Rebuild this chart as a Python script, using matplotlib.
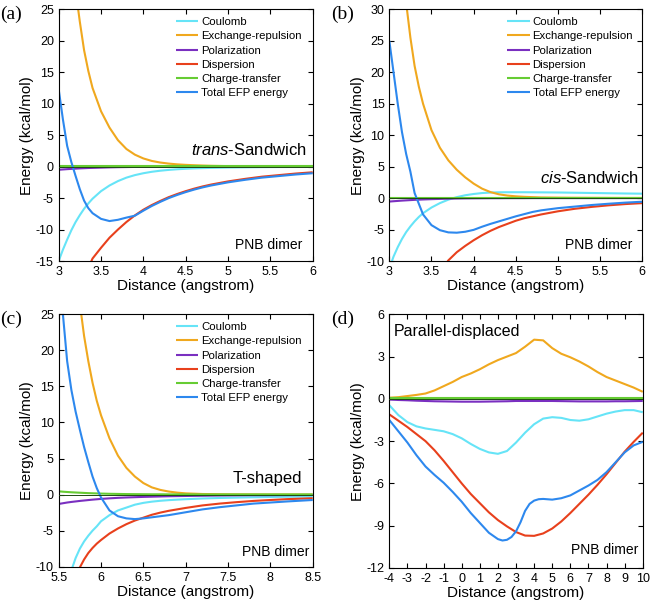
import matplotlib
matplotlib.use("Agg")
import matplotlib.pyplot as plt

plt.rcParams.update({
    "font.family": "Liberation Sans",
    "mathtext.fontset": "custom",
    "mathtext.rm": "Liberation Sans",
    "mathtext.it": "Liberation Sans:italic",
    "axes.unicode_minus": False,
    "axes.linewidth": 0.8,
    "xtick.direction": "in",
    "ytick.direction": "in",
    "xtick.top": True,
    "ytick.right": True,
    "xtick.major.size": 3.5,
    "ytick.major.size": 3.5,
    "xtick.labelsize": 9,
    "ytick.labelsize": 9,
})

LABELS = ["Coulomb", "Exchange-repulsion", "Polarization", "Dispersion",
          "Charge-transfer", "Total EFP energy"]
COLORS = ["#66e4f7", "#f0a81e", "#7a2fc0", "#e8401c", "#66cc33", "#2d88ee"]

# ---- (a) trans-Sandwich ----
x_a = [3.0, 3.05, 3.1, 3.15, 3.2, 3.25, 3.3, 3.35, 3.4, 3.5, 3.6, 3.7, 3.8, 3.9, 4.0,
       4.1, 4.2, 4.3, 4.4, 4.5, 4.6, 4.7, 4.8, 5.0, 5.2, 5.4, 5.6, 5.8, 6.0]
coul_a = [-15, -13.2, -11.6, -10.1, -8.8, -7.7, -6.7, -5.85, -5.1, -3.9, -3.0, -2.3, -1.75,
          -1.35, -1.05, -0.82, -0.65, -0.52, -0.42, -0.34, -0.28, -0.24, -0.2, -0.15,
          -0.12, -0.09, -0.07, -0.06, -0.05]
exrep_a = [62, 51, 42, 34.5, 28, 23, 18.5, 15.2, 12.5, 8.8, 6.2, 4.2, 2.8, 1.9, 1.3, 0.9,
           0.65, 0.48, 0.36, 0.28, 0.22, 0.17, 0.13, 0.08, 0.06, 0.04, 0.03, 0.02, 0.01]
pol_a = [-0.5, -0.45, -0.4, -0.36, -0.32, -0.28, -0.25, -0.22, -0.2, -0.16, -0.12, -0.09,
         -0.07, -0.05, -0.04, -0.03, -0.02, -0.02, -0.01, -0.01, -0.01, 0, 0, 0, 0, 0, 0, 0, 0]
disp_a = [-34, -30, -27, -24.3, -22, -19.8, -17.8, -16.1, -14.6, -12.9, -11.3, -10.0, -8.8,
          -7.75, -6.85, -6.1, -5.45, -4.85, -4.35, -3.9, -3.5, -3.15, -2.85, -2.35, -1.95,
          -1.6, -1.35, -1.1, -0.9]
ct_a = [0.05] * 29
total_a = [12.3, 7.5, 3.3, 0.7, -1.5, -3.6, -5.4, -6.6, -7.4, -8.3, -8.65, -8.45, -8.1,
           -7.8, -7.0, -6.25, -5.6, -5.0, -4.5, -4.05, -3.65, -3.3, -3.0, -2.5, -2.1,
           -1.75, -1.5, -1.25, -1.05]

# ---- (b) cis-Sandwich ----
x_b = x_a
coul_b = [-11.2, -9.3, -7.8, -6.5, -5.4, -4.5, -3.7, -3.0, -2.4, -1.5, -0.8, -0.25, 0.15,
          0.45, 0.65, 0.8, 0.88, 0.92, 0.93, 0.93, 0.93, 0.92, 0.91, 0.89, 0.85, 0.81,
          0.77, 0.73, 0.7]
exrep_b = [70, 56, 45, 37, 31, 25.5, 21, 17.7, 15, 10.8, 8.0, 6.0, 4.5, 3.3, 2.3, 1.5,
           0.95, 0.6, 0.4, 0.28, 0.2, 0.15, 0.1, 0.07, 0.05, 0.04, 0.03, 0.02, 0.02]
pol_b = [-0.55, -0.5, -0.45, -0.4, -0.36, -0.32, -0.28, -0.25, -0.22, -0.17, -0.13, -0.1,
         -0.07, -0.05, -0.04, -0.03, -0.02, -0.02, -0.01, -0.01, -0.01, 0, 0, 0, 0, 0, 0, 0, 0]
disp_b = [-32, -29.5, -27, -25, -23, -21.2, -19.5, -18, -16.5, -14, -11.8, -9.9, -8.6, -7.6,
          -6.7, -5.9, -5.2, -4.6, -4.1, -3.6, -3.2, -2.9, -2.6, -2.1, -1.7, -1.4, -1.15,
          -0.95, -0.8]
ct_b = [0.03] * 29
total_b = [25, 20, 15, 10.5, 7.0, 4.2, 0.8, -0.9, -2.6, -4.3, -5.1, -5.45, -5.5, -5.35,
           -5.05, -4.55, -4.1, -3.7, -3.3, -2.9, -2.55, -2.2, -1.95, -1.6, -1.35, -1.1,
           -0.9, -0.72, -0.58]

# ---- (c) T-shaped ----
x_c = [5.5, 5.55, 5.6, 5.65, 5.7, 5.75, 5.8, 5.85, 5.9, 5.95, 6.0, 6.1, 6.2, 6.3, 6.4, 6.5,
       6.6, 6.7, 6.8, 6.9, 7.0, 7.2, 7.4, 7.6, 7.8, 8.0, 8.2, 8.5]
coul_c = [-17, -15, -12.8, -10.5, -8.8, -7.5, -6.5, -5.7, -5.0, -4.4, -3.7, -2.85, -2.2,
          -1.8, -1.4, -1.15, -0.98, -0.86, -0.77, -0.7, -0.64, -0.54, -0.47, -0.42, -0.37,
          -0.33, -0.3, -0.26]
exrep_c = [80, 63, 50, 40.5, 33, 26.5, 22, 18.5, 15.5, 13, 11, 7.8, 5.4, 3.7, 2.5, 1.6, 1.0,
           0.65, 0.42, 0.27, 0.17, 0.08, 0.05, 0.03, 0.02, 0.01, 0.01, 0.0]
pol_c = [-1.3, -1.2, -1.1, -1.02, -0.95, -0.88, -0.82, -0.76, -0.7, -0.65, -0.6, -0.52,
         -0.45, -0.4, -0.36, -0.32, -0.29, -0.26, -0.23, -0.21, -0.19, -0.16, -0.13, -0.11,
         -0.09, -0.08, -0.07, -0.05]
disp_c = [-18, -16.2, -14.5, -12.9, -11.5, -10.1, -9.0, -8.1, -7.4, -6.8, -6.3, -5.4, -4.7,
          -4.1, -3.6, -3.2, -2.8, -2.5, -2.25, -2.05, -1.85, -1.5, -1.25, -1.05, -0.88,
          -0.75, -0.63, -0.5]
ct_c = [0.45, 0.4, 0.36, 0.32, 0.29, 0.26, 0.23, 0.2, 0.18, 0.16, 0.14, 0.11, 0.09, 0.07,
        0.06, 0.05, 0.04, 0.04, 0.03, 0.03, 0.03, 0.02, 0.02, 0.02, 0.02, 0.02, 0.02, 0.02]
total_c = [38, 25, 18.5, 14.5, 11.5, 9.0, 6.6, 4.5, 2.5, 0.9, -0.4, -2.2, -3.0, -3.3, -3.4,
           -3.3, -3.15, -3.0, -2.85, -2.65, -2.45, -2.05, -1.75, -1.5, -1.25, -1.1, -0.95,
           -0.75]

# ---- (d) Parallel-displaced ----
x_d = [-4, -3.5, -3, -2.5, -2, -1.5, -1, -0.5, 0, 0.5, 1, 1.5, 2, 2.5, 3, 3.5, 4, 4.5, 5,
       5.5, 6, 6.5, 7, 7.5, 8, 8.5, 9, 9.5, 10]
coul_d = [-0.45, -1.15, -1.65, -1.95, -2.1, -2.2, -2.3, -2.5, -2.8, -3.2, -3.55, -3.8, -3.9,
          -3.7, -3.1, -2.4, -1.8, -1.4, -1.3, -1.35, -1.5, -1.55, -1.45, -1.25, -1.05,
          -0.9, -0.8, -0.8, -0.95]
exrep_d = [0.08, 0.12, 0.2, 0.28, 0.38, 0.6, 0.9, 1.2, 1.55, 1.8, 2.1, 2.45, 2.75, 3.0,
           3.25, 3.7, 4.2, 4.15, 3.6, 3.2, 2.95, 2.65, 2.3, 1.9, 1.55, 1.3, 1.05, 0.8, 0.5]
pol_d = [-0.05, -0.08, -0.1, -0.13, -0.15, -0.17, -0.18, -0.19, -0.2, -0.2, -0.2, -0.19,
         -0.18, -0.17, -0.15, -0.15, -0.15, -0.15, -0.15, -0.16, -0.17, -0.18, -0.18,
         -0.18, -0.18, -0.17, -0.17, -0.16, -0.15]
disp_d = [-1.1, -1.55, -2.0, -2.5, -3.0, -3.65, -4.4, -5.2, -6.0, -6.75, -7.4, -8.05, -8.6,
          -9.05, -9.45, -9.7, -9.72, -9.55, -9.2, -8.7, -8.1, -7.45, -6.8, -6.1, -5.35,
          -4.55, -3.75, -3.05, -2.4]
ct_d = [0.03] * 29
x_total_d = [-4, -3.5, -3, -2.5, -2, -1.5, -1, -0.5, 0, 0.5, 1, 1.5, 2, 2.25, 2.5, 2.75, 3,
             3.25, 3.5, 3.75, 4, 4.25, 4.5, 5, 5.5, 6, 6.5, 7, 7.5, 8, 8.5, 9, 9.5, 10]
total_d = [-1.5, -2.3, -3.1, -4.0, -4.8, -5.4, -5.95, -6.6, -7.3, -8.1, -8.8, -9.5, -9.95,
           -10.05, -10.0, -9.8, -9.4, -8.75, -7.95, -7.45, -7.22, -7.12, -7.1, -7.15, -7.05,
           -6.85, -6.5, -6.15, -5.75, -5.2, -4.5, -3.8, -3.3, -3.05]

fig = plt.figure(figsize=(6.52, 6.11), dpi=100)
ax_a = fig.add_axes([0.090, 0.5728, 0.3896, 0.412])
ax_b = fig.add_axes([0.5971, 0.5728, 0.3880, 0.412])
ax_c = fig.add_axes([0.090, 0.0725, 0.3896, 0.4131])
ax_d = fig.add_axes([0.5971, 0.0704, 0.3887, 0.4152])


def draw(ax, series, legend_x=None):
    for (x, y), lab, col in zip(series, LABELS, COLORS):
        ax.plot(x, y, color=col, lw=1.5, label=lab, solid_capstyle="butt")
    ax.axhline(0, color="#1f4a12", lw=0.7, zorder=3)
    if legend_x is not None:
        ax.legend(loc="upper left", bbox_to_anchor=(legend_x, 0.968), frameon=False,
                  fontsize=8.2, handlelength=2.0, handletextpad=0.25, labelspacing=0.36,
                  borderpad=0, borderaxespad=0)
    ax.set_xlabel("Distance (angstrom)", fontsize=11, labelpad=1)
    ax.set_ylabel("Energy (kcal/mol)", fontsize=11, labelpad=1)


draw(ax_a, [(x_a, coul_a), (x_a, exrep_a), (x_a, pol_a), (x_a, disp_a),
            (x_a, ct_a), (x_a, total_a)], legend_x=0.46)
ax_a.set_xlim(3, 6)
ax_a.set_ylim(-15, 25)
ax_a.set_xticks([3, 3.5, 4, 4.5, 5, 5.5, 6])
ax_a.set_xticklabels(["3", "3.5", "4", "4.5", "5", "5.5", "6"])
ax_a.set_yticks(range(-15, 26, 5))
ax_a.text(5.93, 2.6, r"$\it{trans}$-Sandwich", fontsize=12, ha="right", va="center")
ax_a.text(5.88, -12.45, "PNB dimer", fontsize=10, ha="right", va="center")

draw(ax_b, [(x_b, coul_b), (x_b, exrep_b), (x_b, pol_b), (x_b, disp_b),
            (x_b, ct_b), (x_b, total_b)], legend_x=0.465)
ax_b.set_xlim(3, 6)
ax_b.set_ylim(-10, 30)
ax_b.set_xticks([3, 3.5, 4, 4.5, 5, 5.5, 6])
ax_b.set_xticklabels(["3", "3.5", "4", "4.5", "5", "5.5", "6"])
ax_b.set_yticks(range(-10, 31, 5))
ax_b.text(5.96, 3.2, r"$\it{cis}$-Sandwich", fontsize=12, ha="right", va="center")
ax_b.text(5.88, -7.45, "PNB dimer", fontsize=10, ha="right", va="center")

draw(ax_c, [(x_c, coul_c), (x_c, exrep_c), (x_c, pol_c), (x_c, disp_c),
            (x_c, ct_c), (x_c, total_c)], legend_x=0.46)
ax_c.set_xlim(5.5, 8.5)
ax_c.set_ylim(-10, 25)
ax_c.set_xticks([5.5, 6, 6.5, 7, 7.5, 8, 8.5])
ax_c.set_xticklabels(["5.5", "6", "6.5", "7", "7.5", "8", "8.5"])
ax_c.set_yticks(range(-10, 26, 5))
ax_c.text(8.37, 2.3, "T-shaped", fontsize=12, ha="right", va="center")
ax_c.text(8.46, -7.9, "PNB dimer", fontsize=10, ha="right", va="center")

draw(ax_d, [(x_d, coul_d), (x_d, exrep_d), (x_d, pol_d), (x_d, disp_d),
            (x_d, ct_d), (x_total_d, total_d)])
ax_d.set_xlim(-4, 10)
ax_d.set_ylim(-12, 6)
ax_d.set_xticks(range(-4, 11))
ax_d.set_yticks(range(-12, 7, 3))
ax_d.text(-3.74, 4.75, "Parallel-displaced", fontsize=11.5, ha="left", va="center")
ax_d.text(9.74, -10.7, "PNB dimer", fontsize=10, ha="right", va="center")

for ax, lab in zip([ax_a, ax_b, ax_c, ax_d], ["(a)", "(b)", "(c)", "(d)"]):
    pos = ax.get_position()
    fig.text(pos.x0 - 0.09, pos.y1 + 0.006, lab, fontsize=14,
             family="Liberation Serif", ha="left", va="top")

fig.savefig("out.png", dpi=100)
